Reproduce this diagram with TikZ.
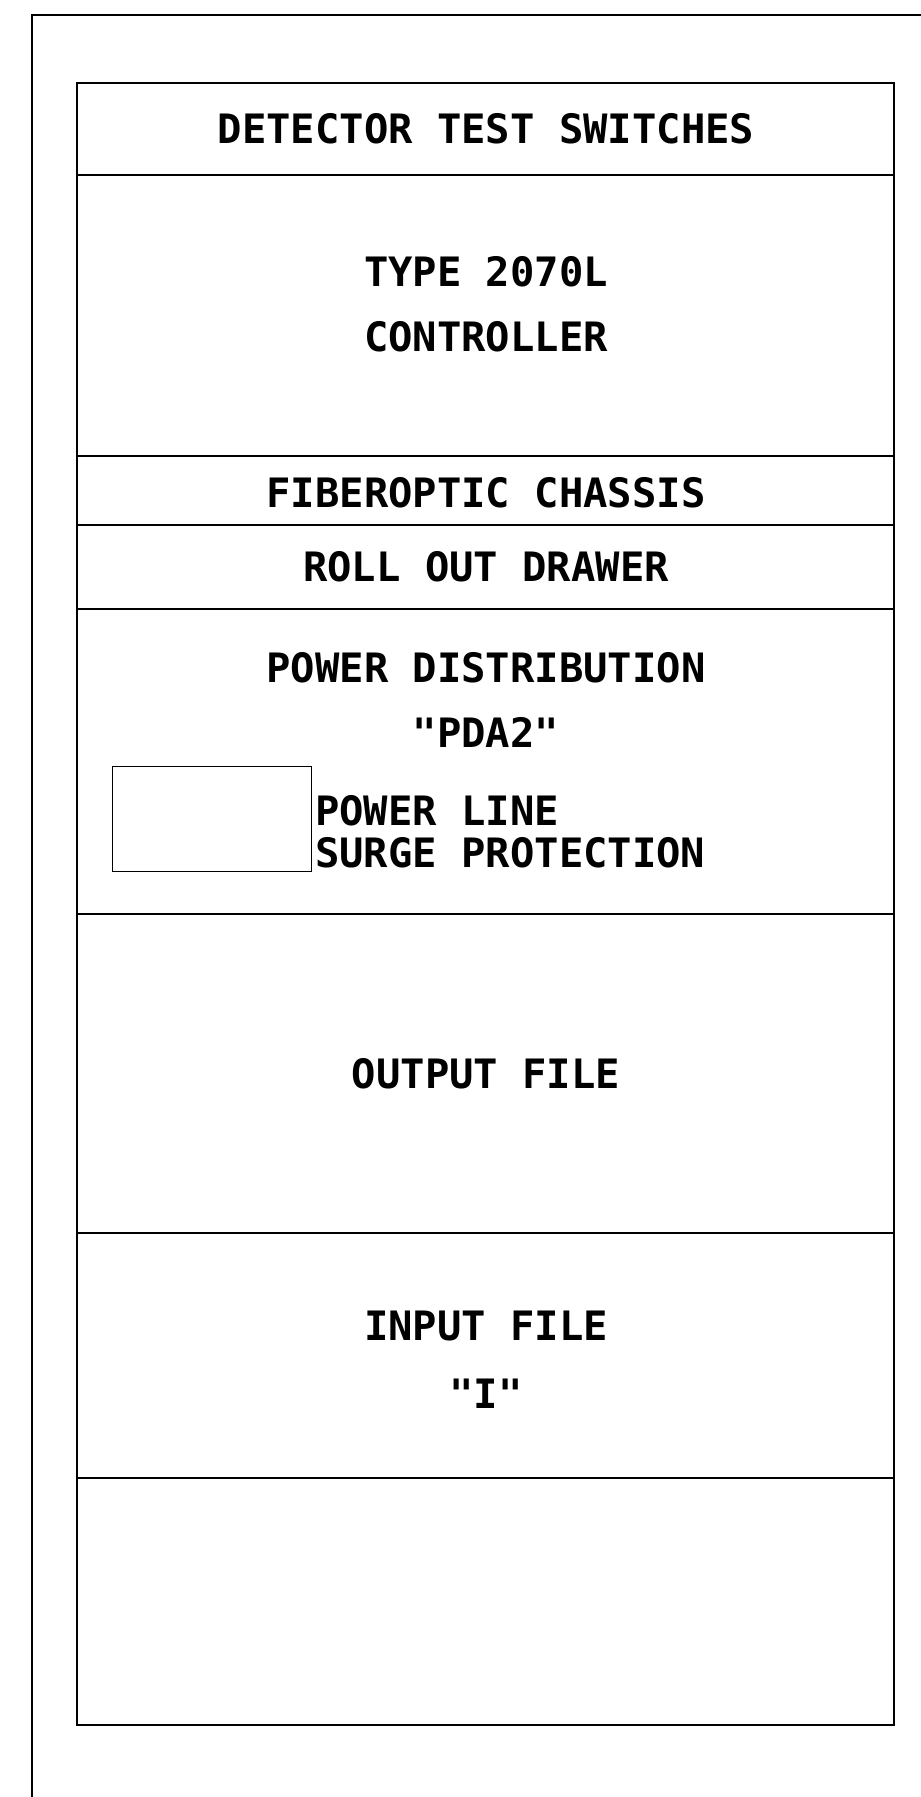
\documentclass[tikz,border=0pt]{standalone}
\usepackage{fontspec}
\newfontfamily\plotfont{DejaVu Sans Mono}[BoldFont={* Bold}]
\begin{document}
\begin{tikzpicture}[x=1pt,y=-1pt,
  frame/.style={line width=2.6pt,line cap=rect},
  box/.style={line width=2.2pt},
  divider/.style={line width=1.6pt},
  lbl/.style={font=\plotfont\bfseries\fontsize{40.5}{42}\selectfont,inner sep=0pt,text height=29pt,text depth=0pt}]
\useasboundingbox (0,0) rectangle (921,1797);
% outer cabinet frame (top and left edges)
\draw[frame] (921,15) -- (32,15) -- (32,1797);
% inner rack
\draw[box] (77,83) rectangle (894,1725);
\foreach \yy in {175,456,525,609,914,1233,1478}
  \draw[divider] (77,\yy) -- (894,\yy);
% surge protection box
\node[draw,line width=1.4pt,minimum width=199pt,minimum height=105pt,inner sep=0pt,anchor=north west] (surge) at (112,766) {};
% labels
\node[lbl] (dts) at (486,129) {DETECTOR TEST SWITCHES};
\node[lbl] (type) at (486,272) {TYPE 2070L};
\node[lbl] (ctrl) at (486,337) {CONTROLLER};
\node[lbl] (fiber) at (486,493) {FIBEROPTIC CHASSIS};
\node[lbl] (roll) at (486,567) {ROLL OUT DRAWER};
\node[lbl] (pdist) at (486,668) {POWER DISTRIBUTION};
\node[lbl] (pda) at (486,733) {"PDA2"};
\node[lbl,anchor=west] (pline) at (315,811) {POWER LINE};
\node[lbl,anchor=west] (sprot) at (315,853) {SURGE PROTECTION};
\node[lbl] (out) at (486,1074) {OUTPUT FILE};
\node[lbl] (in) at (486,1326) {INPUT FILE};
\node[lbl] (inI) at (486,1394) {"I"};
\end{tikzpicture}
\end{document}
